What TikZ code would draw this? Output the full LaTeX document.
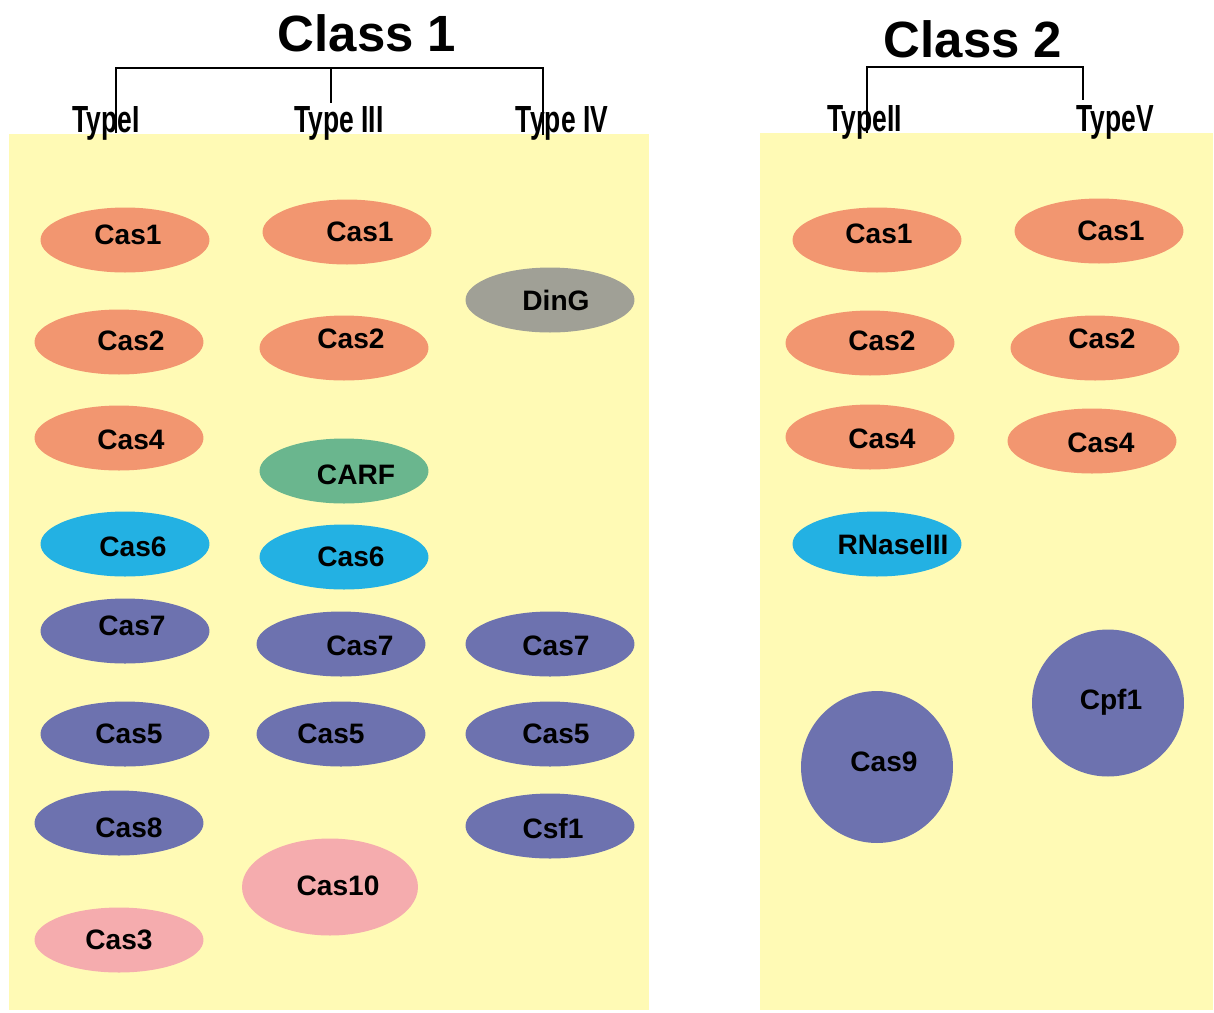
\documentclass[tikz,border=0pt]{standalone}
\usepackage{fontspec}
\setmainfont{Liberation Sans}
\newfontfamily\narrowfont[FakeStretch=0.7]{Liberation Sans}
\usetikzlibrary{shapes.geometric}

\definecolor{pad}{RGB}{255,250,181}
\definecolor{adapt}{RGB}{242,150,112}
\definecolor{proc}{RGB}{35,177,227}
\definecolor{carf}{RGB}{106,182,142}
\definecolor{ding}{RGB}{160,160,150}
\definecolor{effect}{RGB}{109,114,175}
\definecolor{nucl}{RGB}{245,172,174}

\tikzset{
	oval/.style={ellipse,draw=none,inner sep=0pt,minimum width=3.38cm,minimum height=1.3cm},
	bigoval/.style={oval,minimum width=3.52cm,minimum height=1.94cm},
	blob/.style={oval,minimum width=3.04cm,minimum height=3.04cm},
	every label/.style={font=\bfseries\fontsize{16}{18}\selectfont},
	classname/.style={font=\bfseries\fontsize{29}{34}\selectfont},
	typename/.style={font=\narrowfont\bfseries\fontsize{21.5}{24}\selectfont},
	bracket/.style={line width=1.1pt}
}

\begin{document}
\begin{tikzpicture}[x=0.02cm,y=-0.02cm]
	\useasboundingbox (0,0) rectangle (1214,1012);
	\fill[pad] (9,134) rectangle (649,1010);
	\fill[pad] (760,133) rectangle (1213,1010);

	\node[classname] (class1) at (367,33) {Class 1};
	\node[classname] (class2) at (973,39) {Class 2};
	\node[typename] (typeI) at (106,123) {TypeI};
	\node[typename] (typeIII) at (339,123) {Type III};
	\node[typename] (typeIV) at (562,123) {Type IV};
	\node[typename] (typeII) at (865,122) {TypeII};
	\node[typename] (typeV) at (1115,122) {TypeV};

	\coordinate (b1a) at (116,133);
	\coordinate (b1b) at (331,103);
	\coordinate (b1c) at (543,135);
	\coordinate (b2a) at (867,133);
	\coordinate (b2b) at (1083,100);
	\draw[bracket] (b1a) |- (331,68) -| (b1c);
	\draw[bracket] (331,68) -- (b1b);
	\draw[bracket] (b2a) |- (975,67) -| (b2b);

	% Type I
	\node[oval,fill=adapt,label={[shift={(3,-5)}]center:Cas1}] (i1) at (125,240) {};
	\node[oval,fill=adapt,label={[shift={(12,-1)}]center:Cas2}] (i2) at (119,342) {};
	\node[oval,fill=adapt,label={[shift={(12,2)}]center:Cas4}] (i4) at (119,438) {};
	\node[oval,fill=proc,label={[shift={(8,3)}]center:Cas6}] (i6) at (125,544) {};
	\node[oval,fill=effect,label={[shift={(7,-5)}]center:Cas7}] (i7) at (125,631) {};
	\node[oval,fill=effect,label={[shift={(4,0)}]center:Cas5}] (i5) at (125,734) {};
	\node[oval,fill=effect,label={[shift={(10,5)}]center:Cas8}] (i8) at (119,823) {};
	\node[oval,fill=nucl,label={center:Cas3}] (i3) at (119,940) {};

	% Type III
	\node[oval,fill=adapt,label={[shift={(13,0)}]center:Cas1}] (iii1) at (347,232) {};
	\node[oval,fill=adapt,label={[shift={(7,-9)}]center:Cas2}] (iii2) at (344,348) {};
	\node[oval,fill=carf,label={[shift={(12,4)}]center:CARF}] (iiicarf) at (344,471) {};
	\node[oval,fill=proc,label={[shift={(7,0)}]center:Cas6}] (iii6) at (344,557) {};
	\node[oval,fill=effect,label={[shift={(19,2)}]center:Cas7}] (iii7) at (341,644) {};
	\node[oval,fill=effect,label={[shift={(-10,0)}]center:Cas5}] (iii5) at (341,734) {};
	\node[bigoval,fill=nucl,label={[shift={(8,-1)}]center:Cas10}] (iii10) at (330,887) {};

	% Type IV
	\node[oval,fill=ding,label={[shift={(6,0)}]center:DinG}] (ivding) at (550,300) {};
	\node[oval,fill=effect,label={[shift={(6,2)}]center:Cas7}] (iv7) at (550,644) {};
	\node[oval,fill=effect,label={[shift={(6,0)}]center:Cas5}] (iv5) at (550,734) {};
	\node[oval,fill=effect,label={[shift={(3,2)}]center:Csf1}] (ivcsf1) at (550,826) {};

	% Type II
	\node[oval,fill=adapt,label={[shift={(2,-6)}]center:Cas1}] (ii1) at (877,240) {};
	\node[oval,fill=adapt,label={[shift={(12,-2)}]center:Cas2}] (ii2) at (870,343) {};
	\node[oval,fill=adapt,label={[shift={(12,2)}]center:Cas4}] (ii4) at (870,437) {};
	\node[oval,fill=proc,label={[shift={(16,1)}]center:RNaseIII}] (iirnase) at (877,544) {};
	\node[blob,fill=effect,label={[shift={(7,-5)}]center:Cas9}] (ii9) at (877,767) {};

	% Type V
	\node[oval,fill=adapt,label={[shift={(12,0)}]center:Cas1}] (v1) at (1099,231) {};
	\node[oval,fill=adapt,label={[shift={(7,-9)}]center:Cas2}] (v2) at (1095,348) {};
	\node[oval,fill=adapt,label={[shift={(9,2)}]center:Cas4}] (v4) at (1092,441) {};
	\node[blob,fill=effect,minimum height=2.94cm,label={[shift={(3,-1)}]center:Cpf1}] (vcpf1) at (1108,703) {};
\end{tikzpicture}
\end{document}
